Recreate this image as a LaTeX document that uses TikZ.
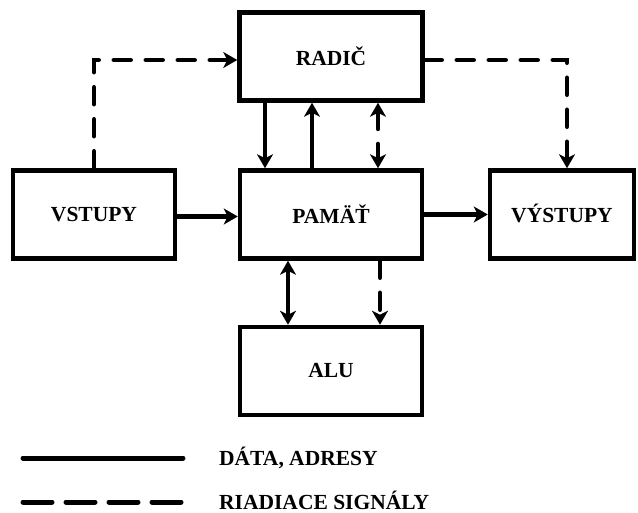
\documentclass[tikz,border=0pt]{standalone}
\usepackage{fontspec}
\setmainfont{Liberation Serif}
\usetikzlibrary{arrows.meta}

\tikzset{
  unitbox/.style={draw, line width=4.5pt, rectangle, minimum height=88pt,
    font=\fontsize{21.5}{24}\selectfont\bfseries, inner sep=0pt},
  data/.style={line width=4.2pt, -{Stealth[length=14pt,width=16pt,inset=4pt]}},
  databoth/.style={line width=4.2pt, {Stealth[length=14pt,width=16pt,inset=4pt]}-{Stealth[length=14pt,width=16pt,inset=4pt]}},
  ctrl/.style={line width=4.5pt, line cap=round, dash pattern=on 17pt off 15pt,
    -{Stealth[length=14pt,width=16pt,inset=4pt]}},
  ctrlboth/.style={line width=4.5pt, line cap=round, dash pattern=on 17pt off 15pt,
    {Stealth[length=14pt,width=16pt,inset=4pt]}-{Stealth[length=14pt,width=16pt,inset=4pt]}},
  legtext/.style={anchor=base west, inner sep=0pt, font=\fontsize{21.5}{24}\selectfont\bfseries},
}

\begin{document}
\begin{tikzpicture}[x=1pt, y=-1pt]
  \useasboundingbox (0,0) rectangle (638,513);

  % functional units
  \node[unitbox, minimum width=183pt] (radic)   at (331,56.5)  {RADIČ};
  \node[unitbox, minimum width=182pt] (pamat)   at (331,214.5) {PAMÄŤ};
  \node[unitbox, minimum width=182pt] (alu)     at (331,371)   {ALU};
  \node[unitbox, minimum width=162pt] (vstupy)  at (94,214.5)  {VSTUPY};
  \node[unitbox, minimum width=144pt] (vystupy) at (562,214.5) {\raisebox{2pt}{VÝSTUPY}};

  % data paths
  \draw[data] ([yshift=-2pt]vstupy.east) -- ([yshift=-2pt]pamat.west);
  \draw[data] (pamat.east) -- (vystupy.west);
  \draw[data] ([xshift=-66pt]radic.south) -- ([xshift=-66pt]pamat.north);
  \draw[data] ([xshift=-19pt]pamat.north) -- ([xshift=-19pt]radic.south);
  \draw[databoth] ([xshift=-43pt]pamat.south) -- ([xshift=-43pt]alu.north);

  % control signals
  \draw[ctrl] (vstupy.north) |- ([yshift=-3.5pt]radic.west);
  \draw[ctrl] ([yshift=-3.5pt]radic.east) -| ([xshift=5pt]vystupy.north);
  \draw[ctrlboth] ([xshift=47pt]radic.south) -- ([xshift=47pt]pamat.north);
  \draw[ctrl] ([xshift=49pt]pamat.south) -- ([xshift=49pt]alu.north);

  % legend
  \coordinate (ld1) at (23,458);
  \coordinate (ld2) at (183,458);
  \coordinate (lc1) at (23,502);
  \coordinate (lc2) at (183,502);
  \draw[line width=5pt, line cap=round] (ld1) -- (ld2);
  \draw[line width=5pt, line cap=round, dash pattern=on 29pt off 14pt] (lc1) -- (lc2);
  \node[legtext] (legdata) at (219,465.5) {DÁTA, ADRESY};
  \node[legtext] (legctrl) at (219,509.5) {RIADIACE SIGNÁLY};
\end{tikzpicture}
\end{document}
